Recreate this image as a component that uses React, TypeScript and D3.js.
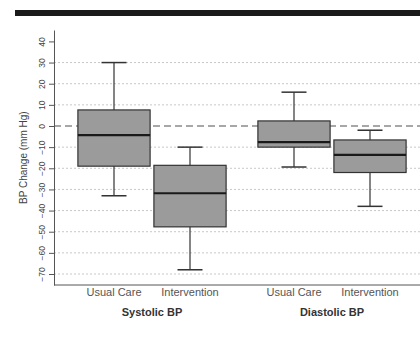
import React, { useRef, useEffect } from 'react';
import * as d3 from 'd3';

// groups / arms on the x axis
const GROUPS = ['Systolic BP', 'Diastolic BP'];
const ARMS = ['Usual Care', 'Intervention'];

// box stats per group, per arm: [whiskerLow, q1, median, q3, whiskerHigh]
const SYSTOLIC_STATS = [
    [-33, -19, -4.3, 7.6, 30],
    [-68, -47.7, -31.8, -18.6, -10],
];
const DIASTOLIC_STATS = [
    [-19.4, -10, -7.6, 2.4, 16],
    [-38, -22, -13.7, -6.6, -2],
];

const Y_TICKS = [-70, -60, -50, -40, -30, -20, -10, 0, 10, 20, 30, 40];
const GRID_TICKS = [-70, -60, -50, -40, -30, -20, -10, 10, 20, 30];

const W = 420;
const H = 340;
const FONT = '"Liberation Sans", Arial, sans-serif';

const App: React.FC = () => {
    const svgRef = useRef<SVGSVGElement | null>(null);

    useEffect(() => {
        if (!svgRef.current) return;
        const svg = d3.select(svgRef.current);
        svg.selectAll('*').remove();

        const axisX = 54;
        const y = d3.scaleLinear().domain([-75.2, 45.4]).range([285, 30]);
        const xGroup = d3.scaleBand<string>().domain(GROUPS).range([62, 422]);
        const xArm = d3.scaleBand<string>().domain(ARMS).range([14, 166]);
        const boxW = xArm.bandwidth() * 0.95;
        const capW = 25;

        // top black rule
        svg.append('rect')
            .attr('x', 15).attr('y', 10)
            .attr('width', W - 15).attr('height', 6)
            .attr('fill', '#1a1a1a');

        // --- GRID ---
        svg.append('g').selectAll('line')
            .data(GRID_TICKS)
            .join('line')
            .attr('x1', axisX).attr('x2', W)
            .attr('y1', d => y(d)).attr('y2', d => y(d))
            .attr('stroke', '#c8c8c8')
            .attr('stroke-width', 1)
            .attr('stroke-dasharray', '2,2');

        // zero reference line
        svg.append('line')
            .attr('x1', axisX).attr('x2', W)
            .attr('y1', y(0)).attr('y2', y(0))
            .attr('stroke', '#8a8a8a')
            .attr('stroke-width', 1.5)
            .attr('stroke-dasharray', '7,4');

        // --- Y AXIS ---
        const yAxis = svg.append('g')
            .attr('transform', `translate(${axisX},0)`)
            .call(d3.axisLeft(y).tickValues(Y_TICKS).tickSize(5).tickSizeOuter(0));
        yAxis.select('.domain').attr('stroke', '#555');
        yAxis.selectAll('.tick line').attr('stroke', '#555');
        yAxis.selectAll('.tick text')
            .attr('x', 0).attr('dy', 0)
            .attr('transform', 'translate(-9,0) rotate(-90)')
            .attr('text-anchor', 'middle')
            .attr('fill', '#444')
            .style('font-family', FONT)
            .style('font-size', '8.5px');

        svg.append('text')
            .attr('transform', `translate(27,${y(-15)}) rotate(-90)`)
            .attr('text-anchor', 'middle')
            .attr('fill', '#444')
            .style('font-family', FONT)
            .style('font-size', '10px')
            .text('BP Change (mm Hg)');

        // --- X AXIS ---
        svg.append('line')
            .attr('x1', axisX).attr('x2', W)
            .attr('y1', 285).attr('y2', 285)
            .attr('stroke', '#555');

        // --- BOXES ---
        const allStats = [SYSTOLIC_STATS, DIASTOLIC_STATS];
        GROUPS.forEach((grp, gi) => {
            const g = svg.append('g').attr('transform', `translate(${xGroup(grp)},0)`);
            ARMS.forEach((arm, ai) => {
                const [lo, q1, med, q3, hi] = allStats[gi][ai];
                const cx = (xArm(arm) ?? 0) + xArm.bandwidth() / 2;
                const b = g.append('g');
                b.append('line')
                    .attr('x1', cx).attr('x2', cx)
                    .attr('y1', y(hi)).attr('y2', y(lo))
                    .attr('stroke', '#333').attr('stroke-width', 1.2);
                [lo, hi].forEach(v => {
                    b.append('line')
                        .attr('x1', cx - capW / 2).attr('x2', cx + capW / 2)
                        .attr('y1', y(v)).attr('y2', y(v))
                        .attr('stroke', '#333').attr('stroke-width', 1.5);
                });
                b.append('rect')
                    .attr('x', cx - boxW / 2).attr('width', boxW)
                    .attr('y', y(q3)).attr('height', y(q1) - y(q3))
                    .attr('fill', '#9b9b9b')
                    .attr('stroke', '#333').attr('stroke-width', 1.2);
                b.append('line')
                    .attr('x1', cx - boxW / 2).attr('x2', cx + boxW / 2)
                    .attr('y1', y(med)).attr('y2', y(med))
                    .attr('stroke', '#1a1a1a').attr('stroke-width', 2.2);

                g.append('text')
                    .attr('x', cx).attr('y', 296)
                    .attr('text-anchor', 'middle')
                    .attr('fill', '#555')
                    .style('font-family', FONT)
                    .style('font-size', '11px')
                    .text(arm);
            });
            g.append('text')
                .attr('x', xGroup.bandwidth() / 2).attr('y', 316)
                .attr('text-anchor', 'middle')
                .attr('fill', '#333')
                .style('font-family', FONT)
                .style('font-size', '11px')
                .style('font-weight', 'bold')
                .text(grp);
        });
    }, []);

    return (
        <svg ref={svgRef} width={W} height={H}
            style={{ position: 'absolute', left: 0, top: 0, background: '#fff' }} />
    );
};

export default App;
